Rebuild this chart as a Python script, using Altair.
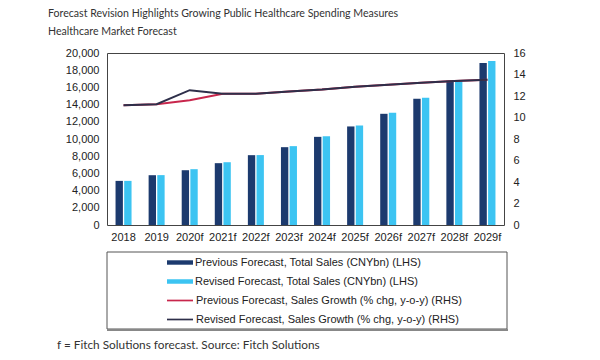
import altair as alt
import pandas as pd

years = ["2018", "2019", "2020f", "2021f", "2022f", "2023f", "2024f", "2025f",
         "2026f", "2027f", "2028f", "2029f"]
prev_sales = [5130, 5790, 6370, 7190, 8120, 9050, 10250, 11460, 12930, 14680, 16770, 18840]
rev_sales = [5130, 5800, 6490, 7300, 8130, 9170, 10330, 11580, 13050, 14790, 16800, 19070]
prev_growth = [11.15, 11.24, 11.61, 12.2, 12.22, 12.42, 12.6, 12.86, 13.05, 13.23, 13.39, 13.51]
rev_growth = [11.15, 11.24, 12.54, 12.2, 12.22, 12.42, 12.6, 12.86, 13.05, 13.23, 13.39, 13.51]

bar_names = [
    "Previous Forecast, Total Sales (CNYbn) (LHS)",
    "Revised Forecast, Total Sales (CNYbn) (LHS)",
]
line_names = [
    "Previous Forecast, Sales Growth (% chg, y-o-y) (RHS)",
    "Revised Forecast, Sales Growth (% chg, y-o-y) (RHS)",
]
bar_colors = ["#1c3a6e", "#3cc4f2"]
line_colors = ["#c8264c", "#2e2f4a"]

title_text = "Forecast Revision Highlights Growing Public Healthcare Spending Measures"
subtitle_text = "Healthcare Market Forecast"
footnote = "f = Fitch Solutions forecast. Source: Fitch Solutions"

bars_df = pd.DataFrame({
    "year": years * 2,
    "series": [bar_names[0]] * len(years) + [bar_names[1]] * len(years),
    "value": prev_sales + rev_sales,
})
prev_line_df = pd.DataFrame({"year": years, "series": line_names[0], "value": prev_growth})
rev_line_df = pd.DataFrame({"year": years, "series": line_names[1], "value": rev_growth})
note_df = pd.DataFrame({"note": [footnote]})
box_df = pd.DataFrame({"k": [1]})

W, H = 397, 172
FONT = "Liberation Sans"

common_legend = dict(
    orient="none", direction="vertical", clipHeight=19, rowPadding=0,
    labelFont=FONT, labelFontSize=11, labelColor="#222", labelOffset=2,
    labelLimit=400, padding=0, symbolOpacity=1,
)
bar_legend = alt.Legend(legendX=60, legendY=200, symbolType="M-1,-0.17H1V0.17H-1Z",
                        symbolSize=676, symbolStrokeWidth=0, **common_legend)
line_legend = alt.Legend(legendX=59, legendY=238, symbolType="stroke",
                         symbolSize=676, symbolStrokeWidth=1.7, **common_legend)

fill = alt.Color("series:N", title=None,
                 scale=alt.Scale(domain=bar_names, range=bar_colors),
                 legend=bar_legend)
stroke = alt.Stroke("series:N", title=None,
                    scale=alt.Scale(domain=line_names, range=line_colors),
                    legend=line_legend)

xenc = alt.X("year:N", sort=years, title=None,
             scale=alt.Scale(paddingInner=0.516, paddingOuter=0.258),
             axis=alt.Axis(labelAngle=0, labelPadding=6, ticks=False, domain=False,
                           labelFont=FONT, labelFontSize=11, labelColor="#222"))

bars = alt.Chart(bars_df).mark_bar().encode(
    x=xenc,
    xOffset=alt.XOffset("series:N", sort=bar_names,
                        scale=alt.Scale(paddingInner=0.15)),
    y=alt.Y("value:Q", title=None, scale=alt.Scale(domain=[0, 20000]),
            axis=alt.Axis(values=list(range(0, 20001, 2000)), format=",.0f", grid=False,
                          ticks=False, domain=False, labelPadding=8,
                          labelFont=FONT, labelFontSize=11, labelColor="#222")),
    color=fill,
)

yline = alt.Y("value:Q", title=None, scale=alt.Scale(domain=[0, 16]),
              axis=alt.Axis(orient="right", values=list(range(0, 17, 2)), grid=False,
                            ticks=False, domain=False, labelPadding=9,
                            labelFont=FONT, labelFontSize=11, labelColor="#222"))

prev_line = alt.Chart(prev_line_df).mark_line(strokeWidth=2).encode(
    x=alt.X("year:N", sort=years), y=yline, stroke=stroke,
)
rev_line = alt.Chart(rev_line_df).mark_line(strokeWidth=2).encode(
    x=alt.X("year:N", sort=years), y=yline, stroke=stroke,
)

box = alt.Chart(box_df).mark_rect(fill="transparent", stroke="#555", strokeWidth=1).encode(
    x=alt.value(0), x2=alt.value(400), y=alt.value(199), y2=alt.value(276)
)
shadow = alt.Chart(box_df).mark_rule(stroke="#888", strokeWidth=2).encode(
    x=alt.value(0), x2=alt.value(401), y=alt.value(277)
)
note = alt.Chart(note_df).mark_text(
    align="left", baseline="middle", font="Lato", fontSize=11.8, color="#333"
).encode(x=alt.value(-50), y=alt.value(292), text="note:N")

lines = alt.layer(prev_line, rev_line)

chart = alt.layer(bars, lines, box, shadow, note).resolve_scale(
    y="independent"
).properties(
    width=W, height=H,
    autosize=alt.AutoSizeParams(type="none"),
    padding={"left": 99, "top": 45, "right": 88, "bottom": 127},
    title=alt.TitleParams(
        text=title_text, subtitle=subtitle_text, anchor="start", dx=-9,
        font="Lato", fontSize=10.6, fontWeight="normal", color="#333",
        subtitleFont="Lato", subtitleFontSize=10.6, subtitleColor="#333",
        subtitlePadding=8, offset=9,
    ),
).configure_view(stroke="#444", strokeWidth=1)

chart.save("out.html", embed_options={"renderer": "svg", "actions": False})
